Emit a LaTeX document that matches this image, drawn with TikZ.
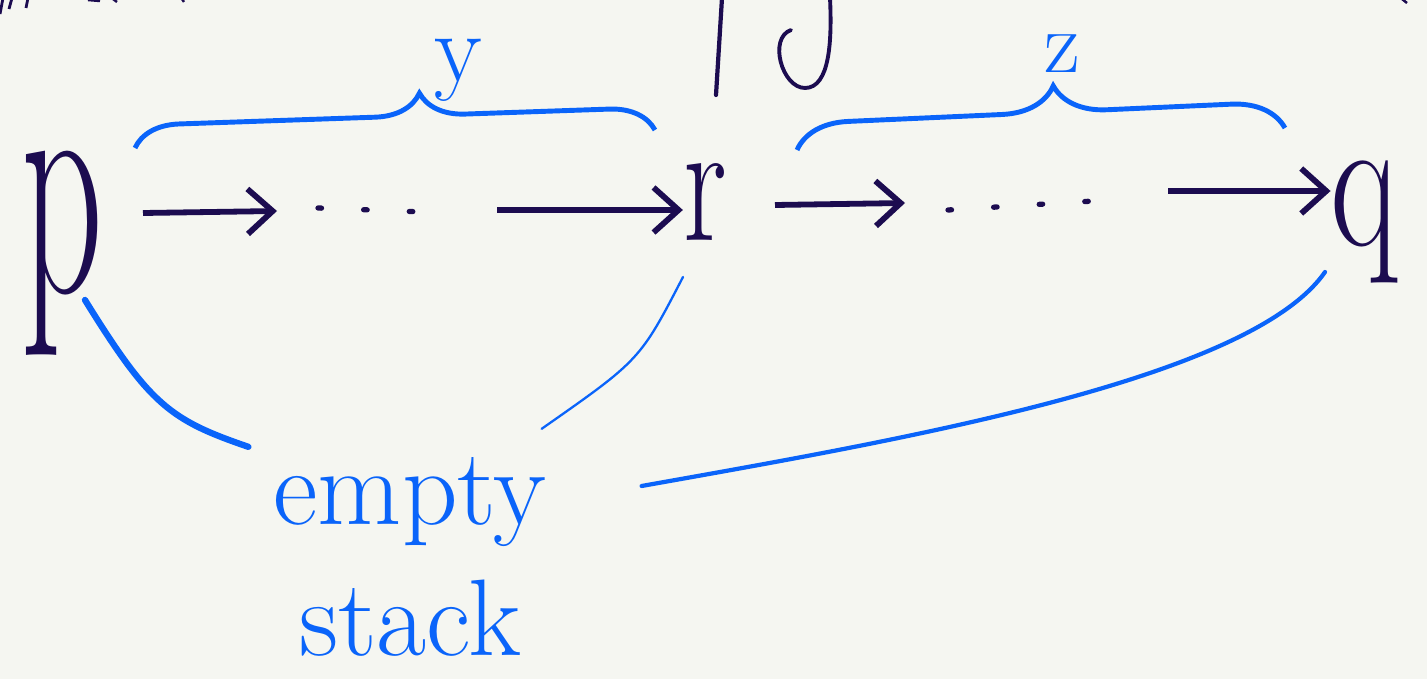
\documentclass[tikz,border=0pt]{standalone}
\usepackage{tikz}
\usetikzlibrary{arrows.meta, decorations.pathreplacing, calc}
\definecolor{ink}{RGB}{28,12,80}
\definecolor{pen}{RGB}{10,100,250}
\definecolor{paper}{RGB}{245,246,241}

\begin{document}
\begin{tikzpicture}[
    x=0.02cm, y=-0.02cm,
    letter/.style={inner sep=0pt, anchor=base, text=ink},
    arrow/.style={-{Straight Barb[length=0.5cm, width=0.9cm]}, line width=3.3pt, ink},
    dotline/.style={line width=3pt, ink, line cap=round, dash pattern=on 2pt off 24pt},
    bracestyle/.style={decorate, decoration={brace, amplitude=0.9cm, aspect=#1}, line width=2.8pt, pen},
    link/.style={pen, line cap=round},
    labelstyle/.style={text=pen, inner sep=0pt, font=\fontsize{60}{60}\selectfont}
]
% paper
\fill[paper] (0,0) rectangle (1427,679);
\useasboundingbox (0,0) rectangle (1427,679);

% === cut-off strokes at the top ===
\draw[ink, line width=2.4pt, line cap=round] (722,-2) -- (716,95);
\draw[ink, line width=2.2pt, line cap=round] (791,30) .. controls (768,38) and (782,88) .. (805,88)
    .. controls (830,88) and (832,40) .. (830,-2);
\draw[ink, line width=1.6pt] (3,-2) -- (0,14) (12,-2) -- (9,9) (28,-2) -- (26,8);
\draw[ink, line width=1.4pt] (88,0) -- (100,1) (113,-1) -- (117,2) (182,-1) -- (184,2) (1402,-1) -- (1407,3);

% === states ===
\node[letter, font=\fontsize{175}{175}\selectfont] (p) at (62,292) {\scalebox{0.52}[1.05]{p}};
\node[letter, font=\fontsize{100}{100}\selectfont] (r) at (705,240) {\scalebox{0.7}[1]{r}};
\node[letter, font=\fontsize{100}{100}\selectfont] (q) at (1365,245) {\scalebox{0.8}[1.1]{q}};

% === run p -> r ===
\coordinate (a1s) at (143,213);
\coordinate (a1e) at (277,211);
\coordinate (d1s) at (318,208);
\coordinate (d1e) at (450,213);
\coordinate (a2s) at (497,210);
\draw[arrow] (a1s) -- (a1e);
\draw[dotline] (d1s) -- (d1e);
\draw[arrow] (a2s) -- (r.west |- a2s);

% === run r -> q ===
\coordinate (a3s) at (775,205);
\coordinate (a3e) at (905,203);
\coordinate (d2s) at (948,210);
\coordinate (d2e) at (1110,200);
\coordinate (a4s) at (1168,191);
\draw[arrow] (a3s) -- (a3e);
\draw[dotline] (d2s) -- (d2e);
\draw[arrow] (a4s) -- (q.west |- a4s);

% === braces and their words ===
\draw[bracestyle=0.55] (135,148) -- (655,130);
\node[labelstyle, font=\fontsize{56}{56}\selectfont] (y) at (458,70) {y};
\draw[bracestyle=0.53, decoration={amplitude=1.05cm}] (797,150) -- (1285,128);
\node[labelstyle, font=\fontsize{50}{50}\selectfont] (z) at (1062,54) {z};

% === empty stack ===
\node[labelstyle, align=center, font=\fontsize{62}{75}\selectfont] (es) at (410,557) {empty\\stack};

\draw[link, line width=3.6pt] ($(p.base)+(23,8)$) .. controls (150,405) and (170,420) .. ($(es.north west)+(-25,-10)$);
\draw[link, line width=1.3pt] ($(r.base)+(-22,37)$) .. controls (640,360) .. ($(es.north east)+(-5,-28)$);
\draw[link, line width=2.4pt] ($(q.base)+(-40,27)$) .. controls (1250,380) and (900,440) .. ($(es.east)+(95,-71)$);
\end{tikzpicture}
\end{document}
